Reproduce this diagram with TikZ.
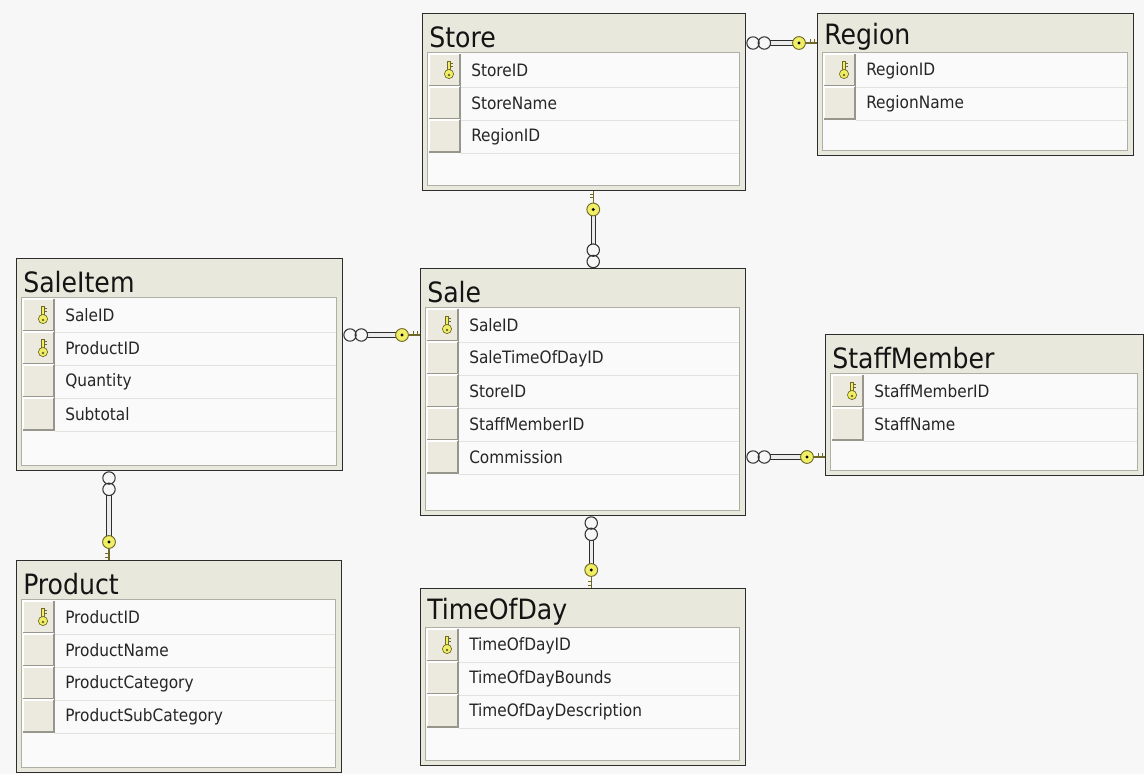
\documentclass[tikz,border=0pt]{standalone}
\usepackage{fontspec}
\setmainfont{DejaVu Sans Condensed}
\usetikzlibrary{calc}

\definecolor{bgfill}{RGB}{247,247,247}
\definecolor{titlefill}{RGB}{233,232,220}
\definecolor{panelfill}{RGB}{250,250,250}
\definecolor{panelline}{RGB}{175,175,168}
\definecolor{rowline}{RGB}{226,226,222}
\definecolor{btnfill}{RGB}{236,234,222}
\definecolor{btndark}{RGB}{150,150,140}
\definecolor{boxline}{RGB}{45,45,45}
\definecolor{keyyellow}{RGB}{240,238,100}
\definecolor{keyline}{RGB}{110,105,40}

\tikzset{
  tablebox/.style={draw=boxline, fill=titlefill, line width=1.1pt, anchor=north west, inner sep=0pt},
  panel/.style={draw=panelline, fill=panelfill, line width=0.6pt},
  tabletitle/.style={anchor=west, inner sep=0pt, text=black!92, font=\fontsize{21}{24}\selectfont},
  fieldtext/.style={anchor=west, inner sep=0pt, text=black!85, font=\fontsize{12.8}{15}\selectfont},
  btnlight/.style={draw=white, line width=0.8pt},
  btnshade/.style={draw=btndark, line width=0.8pt},
  rowsep/.style={draw=rowline, line width=0.6pt},
  relbar/.style={draw=boxline, double=white!85!gray, double distance=2.6pt, line width=0.7pt},
  manyring/.style={draw=black!80, fill=bgfill, line width=0.8pt},
  keyhead/.style={draw=keyline, fill=keyyellow, line width=0.7pt},
  keyicon/.pic={
    \draw[keyline, fill=keyyellow, line width=0.4pt] (-1.4,-1) rectangle (1.4,8.5);
    \draw[keyline, line width=0.6pt] (1.4,3.8) -- (3.8,3.8) (1.4,6.6) -- (3.8,6.6);
    \draw[keyline, fill=keyyellow, line width=0.5pt] (0,-4) circle (4.6);
    \fill[keyline] (0,-5) circle (1.3);
  }
}

% table: name, x, y, width, height, title, key/field list
\newcommand{\dbtable}[7]{%
  \node[tablebox, minimum width={#4*0.75pt}, minimum height={#5*0.75pt}] (#1) at (#2,#3) {};
  \draw[panel] ({#2+5},{#3+39}) rectangle ({#2+#4-6},{#3+#5-5});
  \node[tabletitle] (#1-title) at ({#2+7},{#3+24}) {#6};
  \foreach \k/\f [count=\i from 0] in {#7} {
    \pgfmathsetmacro{\rt}{#3+41+33*\i}
    \fill[btnfill] ({#2+7},\rt) rectangle ({#2+38},\rt+32);
    \draw[btnlight] ({#2+7},\rt+32) -- ({#2+7},\rt) -- ({#2+38},\rt);
    \draw[btnshade] ({#2+38},\rt) -- ({#2+38},\rt+32) -- ({#2+7},\rt+32);
    \draw[rowsep] ({#2+39},\rt+33) -- ({#2+#4-6},\rt+33);
    \node[fieldtext] (#1-f\i) at ({#2+49},\rt+16.5) {\f};
    \ifnum\k=1 \pic at ({#2+27},\rt+16) {keyicon}; \fi
  }
}

% relation: many end, key end, side of the key teeth
\newcommand{\relation}[3]{%
  \draw[relbar] ($(#1)!16pt!(#2)$) -- ($(#2)!18pt!(#1)$);
  \draw[manyring] ($(#1)!4.9pt!(#2)$) circle (6.2) ($(#1)!13.4pt!(#2)$) circle (6.2);
  \draw[keyline, line width=1.1pt] ($(#2)!9pt!(#1)$) -- (#2);
  \draw[keyline, line width=0.7pt] ($(#2)!2pt!(#1)$) -- ($(#2)!2pt!(#1)!2.8pt!#3:(#2)$)
    ($(#2)!4.6pt!(#1)$) -- ($(#2)!4.6pt!(#1)!2.8pt!#3:(#2)$);
  \draw[keyhead] ($(#2)!13.5pt!(#1)$) circle (6.4);
  \fill[black] ($(#2)!13.5pt!(#1)$) circle (1.7);
}

\begin{document}
\begin{tikzpicture}[x=0.75pt,y=0.75pt,yscale=-1,xscale=1]
\useasboundingbox (0,0) rectangle (1144,774);
\fill[bgfill] (0,0) rectangle (1144,774);

% Tables
\dbtable{store}{422}{13}{323}{177}{Store}{1/StoreID,0/StoreName,0/RegionID}
\dbtable{region}{817}{13}{316}{142}{Region}{1/RegionID,0/RegionName}
\dbtable{sale}{420}{268}{325}{247}{Sale}{1/SaleID,0/SaleTimeOfDayID,0/StoreID,0/StaffMemberID,0/Commission}
\dbtable{saleitem}{16}{258}{326}{212}{SaleItem}{1/SaleID,1/ProductID,0/Quantity,0/Subtotal}
\dbtable{staff}{825}{334}{318}{141}{StaffMember}{1/StaffMemberID,0/StaffName}
\dbtable{product}{16}{560}{325}{212}{Product}{1/ProductID,0/ProductName,0/ProductCategory,0/ProductSubCategory}
\dbtable{timeofday}{420}{588}{325}{177}{TimeOfDay}{1/TimeOfDayID,0/TimeOfDayBounds,0/TimeOfDayDescription}

% Relations
\coordinate (c1a) at ($(store.north east)+(0,30)$);
\coordinate (c1b) at (region.west |- c1a);
\relation{c1a}{c1b}{-90}

\coordinate (c2a) at ($(sale.north)+(10,0)$);
\coordinate (c2b) at (store.south -| c2a);
\relation{c2a}{c2b}{-90}

\coordinate (c3a) at ($(saleitem.north east)+(0,77)$);
\coordinate (c3b) at (sale.west |- c3a);
\relation{c3a}{c3b}{-90}

\coordinate (c4a) at ($(sale.north east)+(0,189)$);
\coordinate (c4b) at (staff.west |- c4a);
\relation{c4a}{c4b}{-90}

\coordinate (c5a) at ($(sale.south)+(8,0)$);
\coordinate (c5b) at (timeofday.north -| c5a);
\relation{c5a}{c5b}{90}

\coordinate (c6a) at ($(saleitem.south west)+(93,0)$);
\coordinate (c6b) at (product.north -| c6a);
\relation{c6a}{c6b}{90}

\end{tikzpicture}
\end{document}
